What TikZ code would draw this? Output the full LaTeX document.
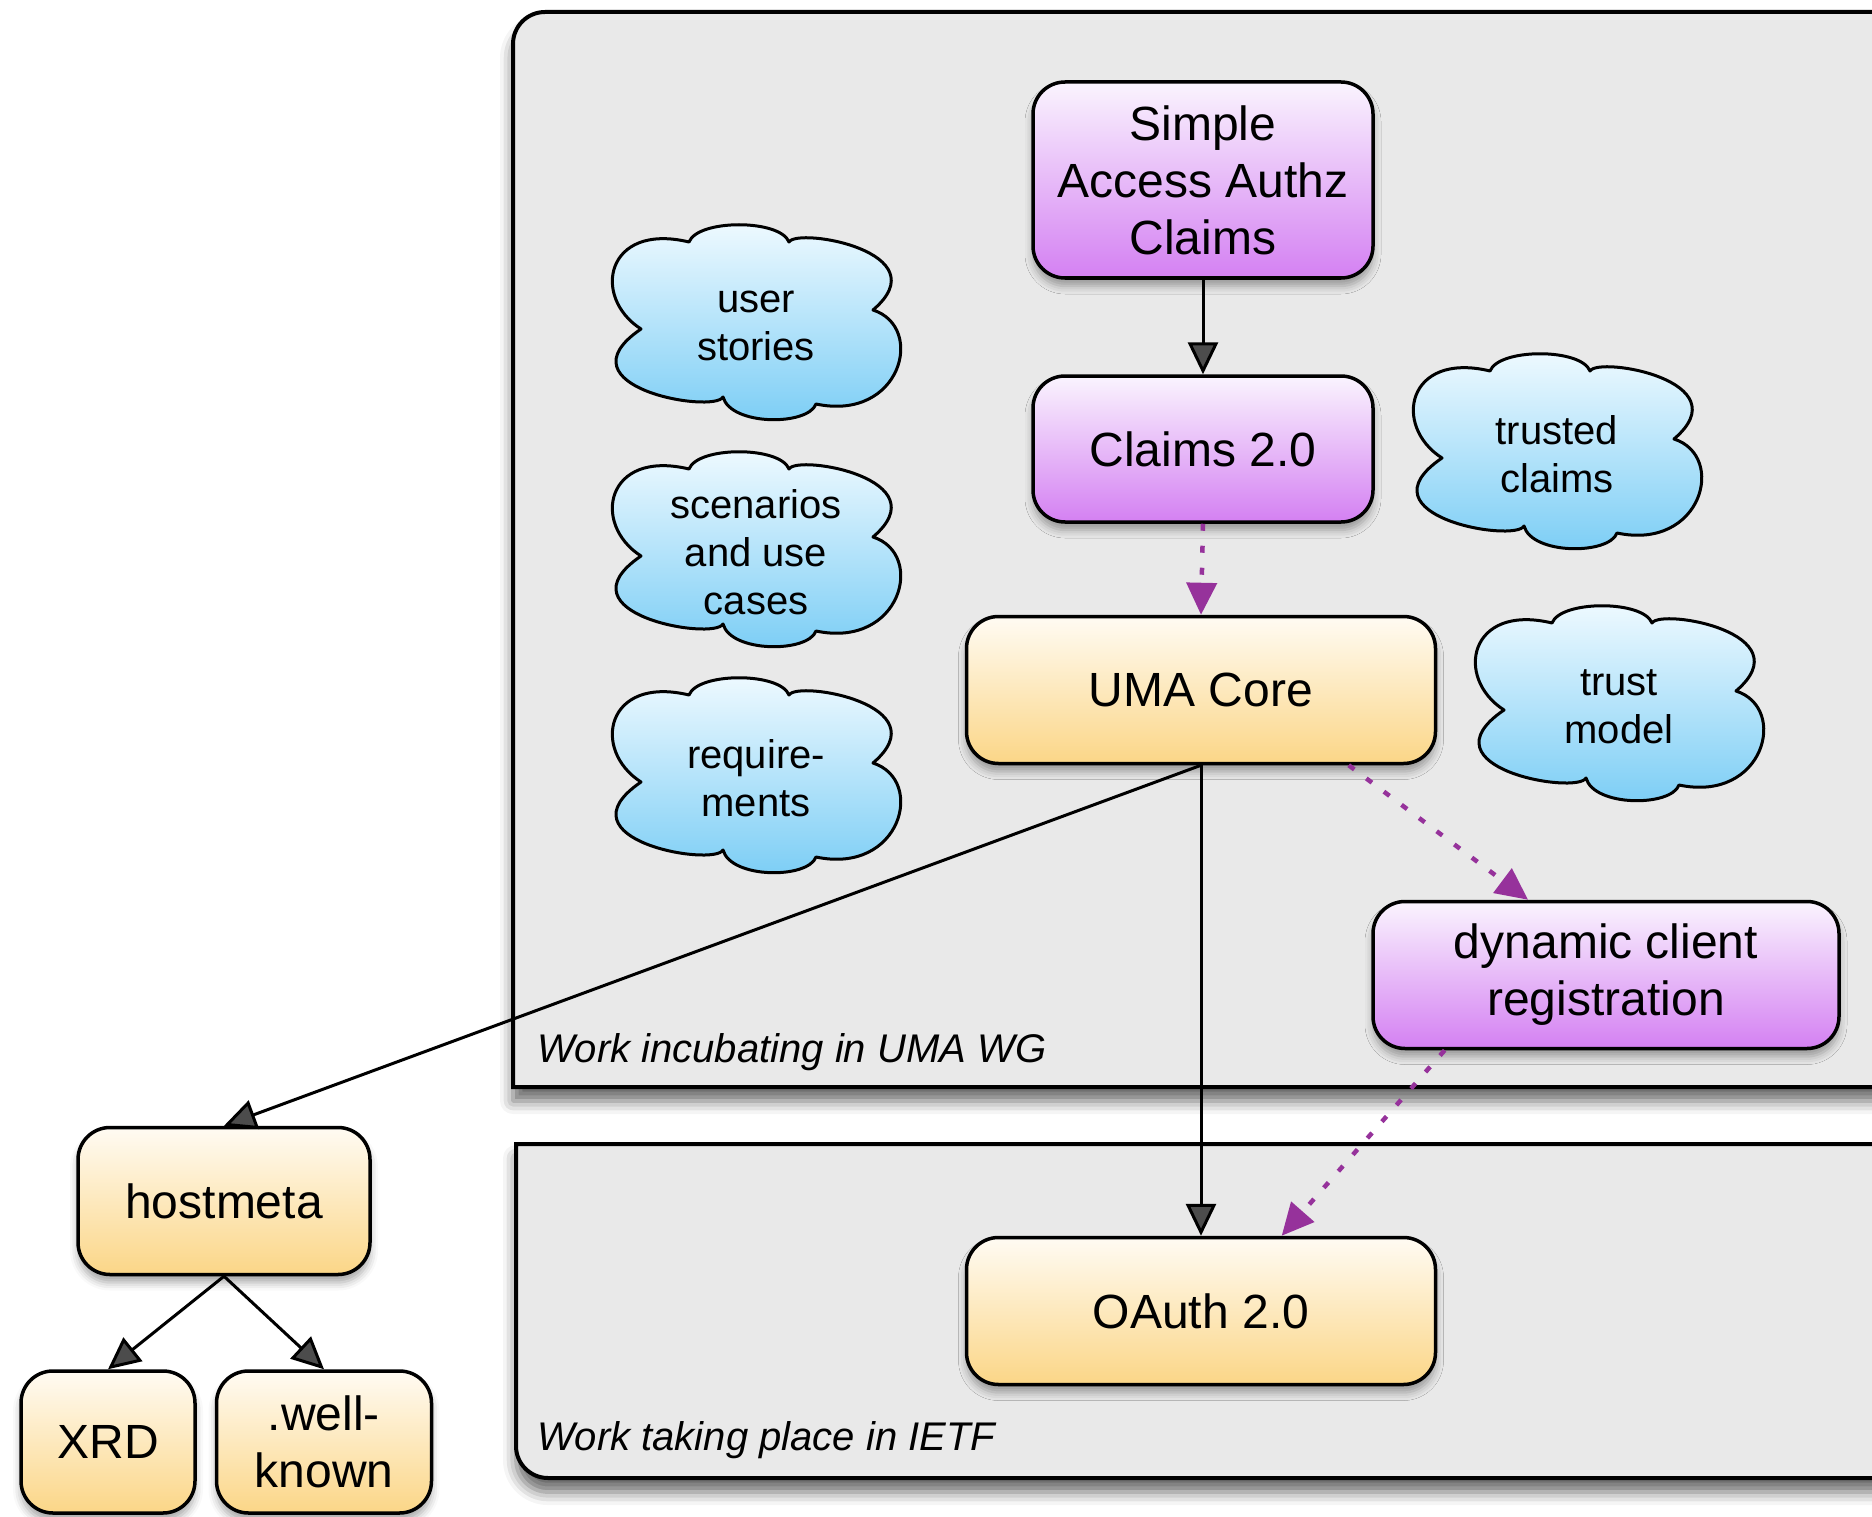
\documentclass[tikz,border=0pt]{standalone}
\usepackage{fontspec}
\setmainfont{Liberation Sans}
\usetikzlibrary{arrows.meta,shadows.blur}
\definecolor{panelgray}{RGB}{233,233,233}
\definecolor{purptop}{RGB}{250,244,254}
\definecolor{purpbot}{RGB}{212,128,242}
\definecolor{orgtop}{RGB}{255,251,243}
\definecolor{orgbot}{RGB}{251,214,135}
\definecolor{cldtop}{RGB}{240,250,255}
\definecolor{cldbot}{RGB}{122,205,245}
\definecolor{linkpurple}{RGB}{150,50,155}
\begin{document}
\begin{tikzpicture}[x=1pt,y=-1pt,
  softshadow/.style={blur shadow={shadow xshift=0pt,shadow yshift=-8pt,shadow blur radius=8pt,shadow opacity=35}},
  panel/.style={draw,line width=4pt,fill=panelgray,
    blur shadow={shadow xshift=0pt,shadow yshift=-14pt,shadow blur radius=13pt,shadow opacity=60}},
  box/.style={draw,line width=3.5pt,rounded corners=32pt,align=center,inner sep=0pt,
    font=\fontsize{48}{57}\selectfont,softshadow},
  spec/.style={box,top color=purptop,bottom color=purpbot},
  impl/.style={box,top color=orgtop,bottom color=orgbot},
  cloudbody/.style={draw,line width=3pt,line join=round,top color=cldtop,bottom color=cldbot},
  idea/.style={inner sep=0pt,align=center,font=\fontsize{40}{48}\selectfont},
  cloudpic/.pic={
    \path[cloudbody] (-115,7) .. controls (-165,-25) and (-150,-100) .. (-67,-80)
      .. controls (-58,-103) and (24,-103) .. (33,-80)
      .. controls (42,-95) and (185,-70) .. (117,-12)
      .. controls (170,5) and (145,100) .. (60,82)
      .. controls (52,104) and (-25,104) .. (-33,75)
      .. controls (-42,92) and (-200,65) .. (-115,7) -- cycle;
  },
  panellabel/.style={anchor=base west,inner sep=0pt,font=\fontsize{40}{48}\selectfont\itshape},
  solidlink/.style={line width=3pt,-{Triangle[length=32pt,width=30pt]}},
  dottedlink/.style={draw=linkpurple,line width=4.5pt,dash pattern=on 7pt off 15pt,
    -{Triangle[length=32pt,width=30pt]}}
]
\useasboundingbox (0,0) rectangle (1872,1517);
\clip (0,0) rectangle (1872,1517);

% working-group panel
\path[panel] (1950,1087) -- (513,1087) -- (513,44)
  .. controls (513,26.3) and (527.3,12) .. (545,12) -- (1950,12) -- cycle;
% IETF panel
\path[panel] (1950,1144) -- (516,1144) -- (516,1446)
  .. controls (516,1463.7) and (530.3,1478) .. (548,1478) -- (1950,1478) -- cycle;

\node[panellabel] (wglabel) at (537,1062) {Work incubating in UMA WG};
\node[panellabel] (ietflabel) at (537,1450) {Work taking place in IETF};

% specifications
\node[spec,minimum width=340pt,minimum height=196pt] (saac) at (1203,180) {Simple\\Access Authz\\Claims};
\node[spec,minimum width=340pt,minimum height=146pt] (claims) at (1203,449) {Claims 2.0};
\node[impl,minimum width=469pt,minimum height=147pt] (uma) at (1201,690) {UMA Core};
\node[spec,minimum width=466pt,minimum height=147pt] (dyn) at (1606,975) {dynamic client\\registration};
\node[impl,minimum width=469pt,minimum height=147pt] (oauth) at (1201,1311) {OAuth 2.0};
\node[impl,minimum width=292pt,minimum height=147pt] (hostmeta) at (224,1201) {hostmeta};
\node[impl,minimum width=174pt,minimum height=142pt] (xrd) at (108,1442) {XRD};
\node[impl,minimum width=215pt,minimum height=142pt] (wellknown) at (324,1442) {.well-\\known};

% supporting material
\pic at (756,322) {cloudpic};
\node[idea] (stories) at (756,326) {user\\stories};
\pic at (756,549) {cloudpic};
\node[idea] (scenarios) at (756,552) {scenarios\\and use\\cases};
\pic at (756,775) {cloudpic};
\node[idea] (reqs) at (756,778) {require-\\ments};
\pic at (1557,451) {cloudpic};
\node[idea] (trusted) at (1557,454) {trusted\\claims};
\pic at (1619,703) {cloudpic};
\node[idea] (trustmodel) at (1619,707) {trust\\model};

% dependencies
\draw[solidlink] (saac.south) -- (claims.north);
\draw[dottedlink] (claims.south) -- (uma.north);
\draw[solidlink] (uma.south) -- (oauth.north);
\draw[solidlink] (uma.south) -- (hostmeta.north);
\draw[dottedlink] (uma.-27) -- (dyn.136);
\draw[dottedlink] (dyn.205) -- (oauth.43);
\draw[solidlink] (hostmeta.south) -- (xrd.north);
\draw[solidlink] (hostmeta.south) -- (wellknown.north);
\end{tikzpicture}
\end{document}
